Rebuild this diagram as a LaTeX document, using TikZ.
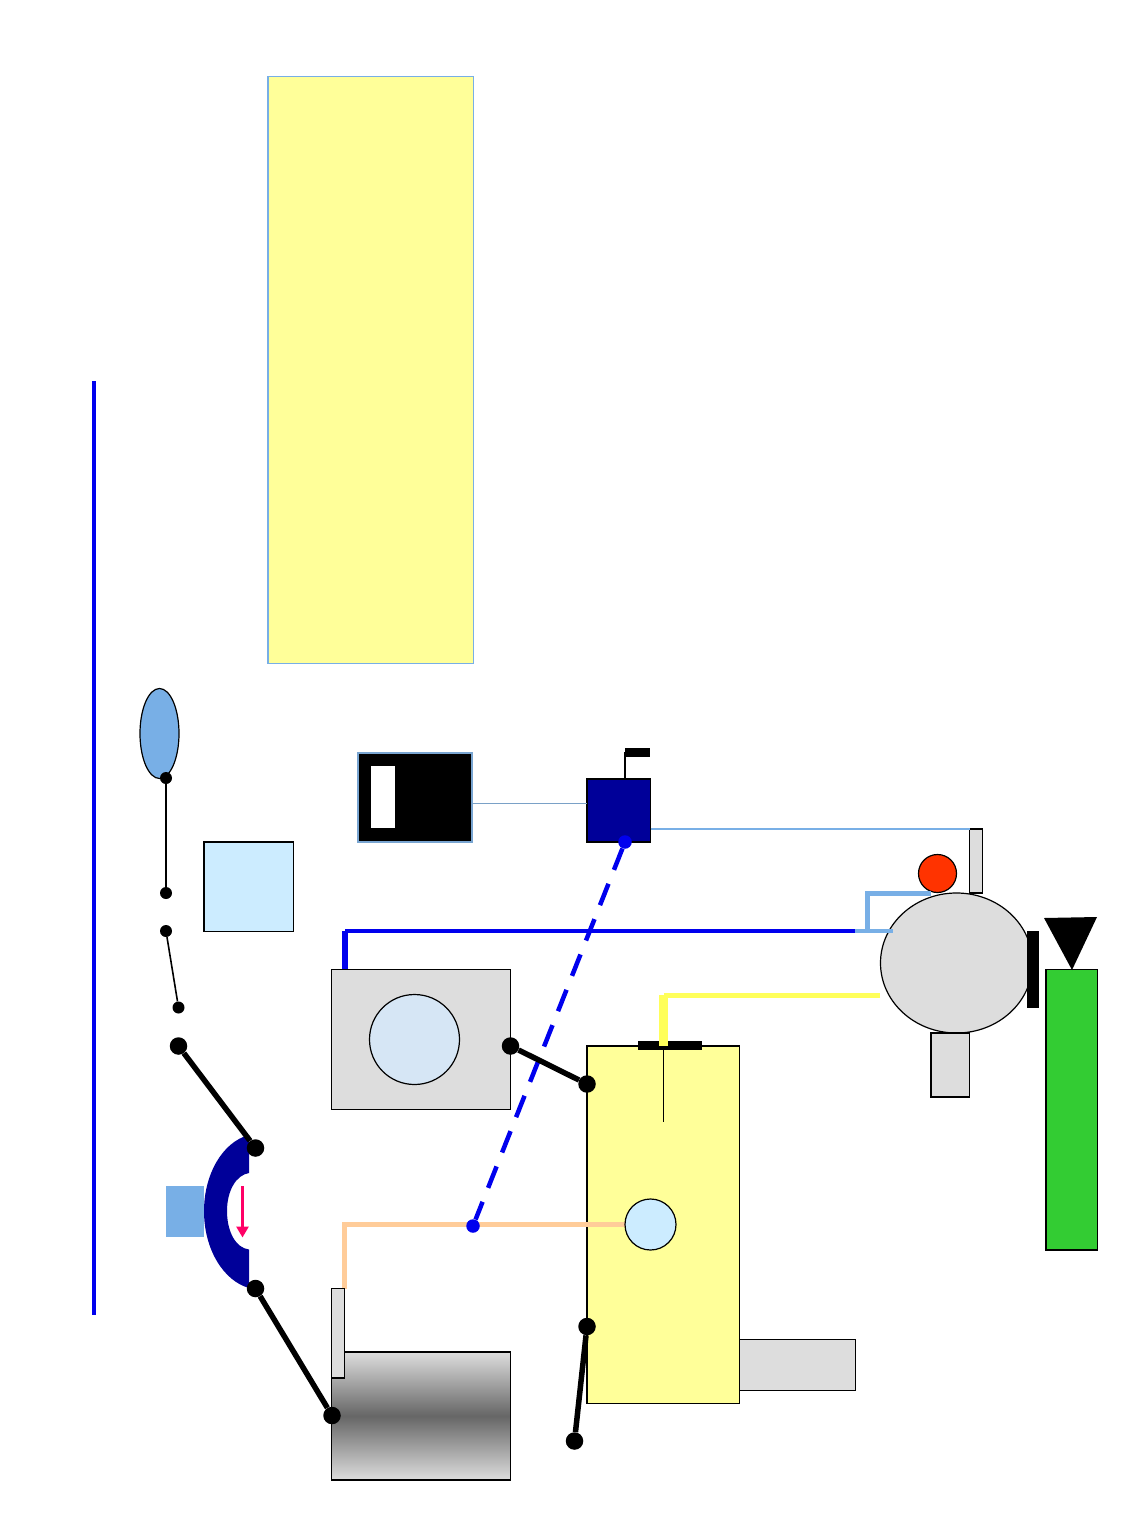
\documentclass[tikz,border=0pt]{standalone}
\usetikzlibrary{arrows.meta}
\definecolor{pyellow}{RGB}{255,255,153}
\definecolor{pgray}{RGB}{221,221,221}
\definecolor{navyb}{RGB}{0,0,153}
\definecolor{skyb}{RGB}{204,236,255}
\definecolor{paleb}{RGB}{214,230,245}
\definecolor{midb}{RGB}{120,175,230}
\definecolor{peach}{RGB}{255,204,153}
\definecolor{pureb}{RGB}{0,0,238}
\definecolor{lineyel}{RGB}{255,255,90}
\definecolor{grn}{RGB}{51,204,51}
\definecolor{redo}{RGB}{255,51,0}
\definecolor{pinkr}{RGB}{255,0,102}
\tikzset{
 bigdot/.style={circle,fill=black,inner sep=0pt,minimum size=17.5pt},
 smalldot/.style={circle,fill=black,inner sep=0pt,minimum size=12pt},
 bluedot/.style={circle,fill=pureb,inner sep=0pt,minimum size=13.5pt},
 link/.style={line width=5.5pt,black},
 thinlink/.style={line width=1.6pt,black},
 box/.style={draw=black,line width=1.2pt},
 grayfill/.style={box,fill=pgray},
}
\begin{document}
\begin{tikzpicture}[x=1pt,y=-1pt]
\useasboundingbox (0,0) rectangle (1148,1531);
\fill[white] (0,0) rectangle (1148,1531);
% long blue line
\coordinate (la) at (93.5,381); \coordinate (lb) at (93.5,1315);
\draw[pureb,line width=4pt] (la) -- (lb);
% yellow panel
\draw[fill=pyellow,draw=midb,line width=1.2pt] (268,76.5) rectangle (473.5,663.5);
% ellipse
\draw[fill=midb,draw=black,line width=1.2pt] (159.5,733.5) ellipse [x radius=19.5,y radius=45];
% sky square
\draw[box,fill=skyb] (204,842) rectangle (293.5,931.5);
% thin links
\node[smalldot] (d1) at (166,778) {};
\node[smalldot] (d2) at (166,893) {};
\node[smalldot] (d3) at (166,931) {};
\node[smalldot] (d4) at (178.5,1007.5) {};
\draw[thinlink] (d1) -- (d2);
\draw[thinlink] (d3) -- (d4);
% black box
\draw[draw=midb!80!gray,fill=black,line width=1.2pt] (358,753) rectangle (472,842);
\fill[white] (371,766) rectangle (395,828);
% gray machine
\draw[box,fill=pgray] (331.5,969.5) rectangle (510.5,1109.5);
\draw[box,fill=paleb] (414.5,1039.5) circle (45);
% yellow tank
\draw[grayfill,line width=0.8pt] (739,1339.5) rectangle (855,1390.5);
\draw[box,fill=pyellow] (587,1046) rectangle (739.5,1403.5);
\draw[black,line width=0.8pt] (663.5,1046) -- (663.5,1122);
% peach pipe
\coordinate (pa) at (344.5,1289); \coordinate (pb) at (344.5,1224.5); \coordinate (pc) at (626,1224.5);
\draw[peach,line width=4.5pt] (pa) -- (pb) -- (pc);
\draw[box,fill=skyb] (650.5,1224.5) circle (25.5);
% black bar and yellow pipe
\fill[black] (638,1041) rectangle (702,1049.5);
\coordinate (ya) at (880,995); \coordinate (yb) at (663.5,995); \coordinate (yc) at (663.5,1046);
\draw[lineyel,line width=5pt] (ya) -- (yb);
\draw[lineyel,line width=9pt] (yb) -- (yc);
% blue pipe
\coordinate (ba) at (856,931); \coordinate (bb) at (345,931); \coordinate (bc) at (345,969);
\draw[pureb,line width=4pt] (ba) -- (bb);
\draw[pureb,line width=6pt] (bb) -- (bc);
% navy box and antenna
\draw[black,line width=1.5pt,fill=navyb] (587,779) rectangle (650.5,842);
\draw[black,line width=1.4pt] (625,779) -- (625,752);
\fill[black] (625,748) rectangle (650,756.5);
\coordinate (ca) at (472,803.5); \coordinate (cb) at (587,803.5);
\draw[midb!70!gray,line width=0.8pt] (ca) -- (cb);
% dashed link
\node[bluedot] (e1) at (625,842) {};
\node[bluedot] (e2) at (473,1226) {};
\draw[pureb,line width=4.5pt,dash pattern=on 23pt off 15pt] (e1) -- (e2);
% right group
\draw[box,line width=1.2pt,fill=pgray] (956.5,963) ellipse [x radius=76,y radius=70];
\draw[grayfill,line width=1.5pt] (931,1033) rectangle (969.5,1097);
\draw[grayfill] (969.5,829) rectangle (982.5,893);
\fill[black] (1027,931) rectangle (1039,1008);
\draw[box,fill=redo] (937.5,873.5) circle (19);
\coordinate (cc) at (650.5,829); \coordinate (cd) at (970,829);
\draw[midb,line width=2pt] (cc) -- (cd);
% light blue branch
\coordinate (ma) at (855,931); \coordinate (mb) at (893,931); \coordinate (mc) at (867.5,931); \coordinate (md) at (867.5,893); \coordinate (me) at (931,893);
\draw[midb,line width=3.5pt] (ma) -- (mb);
\draw[midb,line width=5pt] (mc) -- (md) -- (me);
% green bottle
\draw[black,line width=1.6pt,fill=grn] (1046,969.5) rectangle (1097.5,1250);
\fill[black] (1044,918) -- (1097,917) -- (1072,970) -- cycle;
% crescent
\fill[navyb] (249,1135) .. controls (222,1142) and (204,1175) .. (204,1211)
 .. controls (204,1250) and (224,1281) .. (249,1288) -- (249,1249.5)
 .. controls (236,1248) and (227,1232) .. (227,1211)
 .. controls (227,1191) and (236,1175) .. (249,1173) -- cycle;
\fill[midb] (166,1186) rectangle (204,1237);
\draw[pinkr,line width=2.8pt,-{Triangle[length=11pt,width=12pt]}] (242.5,1186) -- (242.5,1237.5);
% gradient motor
\shade[top color=pgray,bottom color=pgray,middle color=black!60] (331.5,1352) rectangle (510.5,1480);
\draw[box] (331.5,1352) rectangle (510.5,1480);
\draw[black,line width=1.8pt] (344.5,1352) -- (510.5,1352);
\draw[grayfill] (331.5,1288.5) rectangle (344.5,1378);
% thick links
\node[bigdot] (k1) at (178.5,1046) {};
\node[bigdot] (k2) at (255.5,1148) {};
\node[bigdot] (k3) at (255.5,1288.5) {};
\node[bigdot] (k4) at (332,1415.5) {};
\node[bigdot] (k5) at (510.5,1046) {};
\node[bigdot] (k6) at (587,1084) {};
\node[bigdot] (k7) at (587,1326.5) {};
\node[bigdot] (k8) at (574.5,1441) {};
\draw[link] (k1) -- (k2);
\draw[link] (k3) -- (k4);
\draw[link] (k5) -- (k6);
\draw[link] (k7) -- (k8);
\end{tikzpicture}
\end{document}
